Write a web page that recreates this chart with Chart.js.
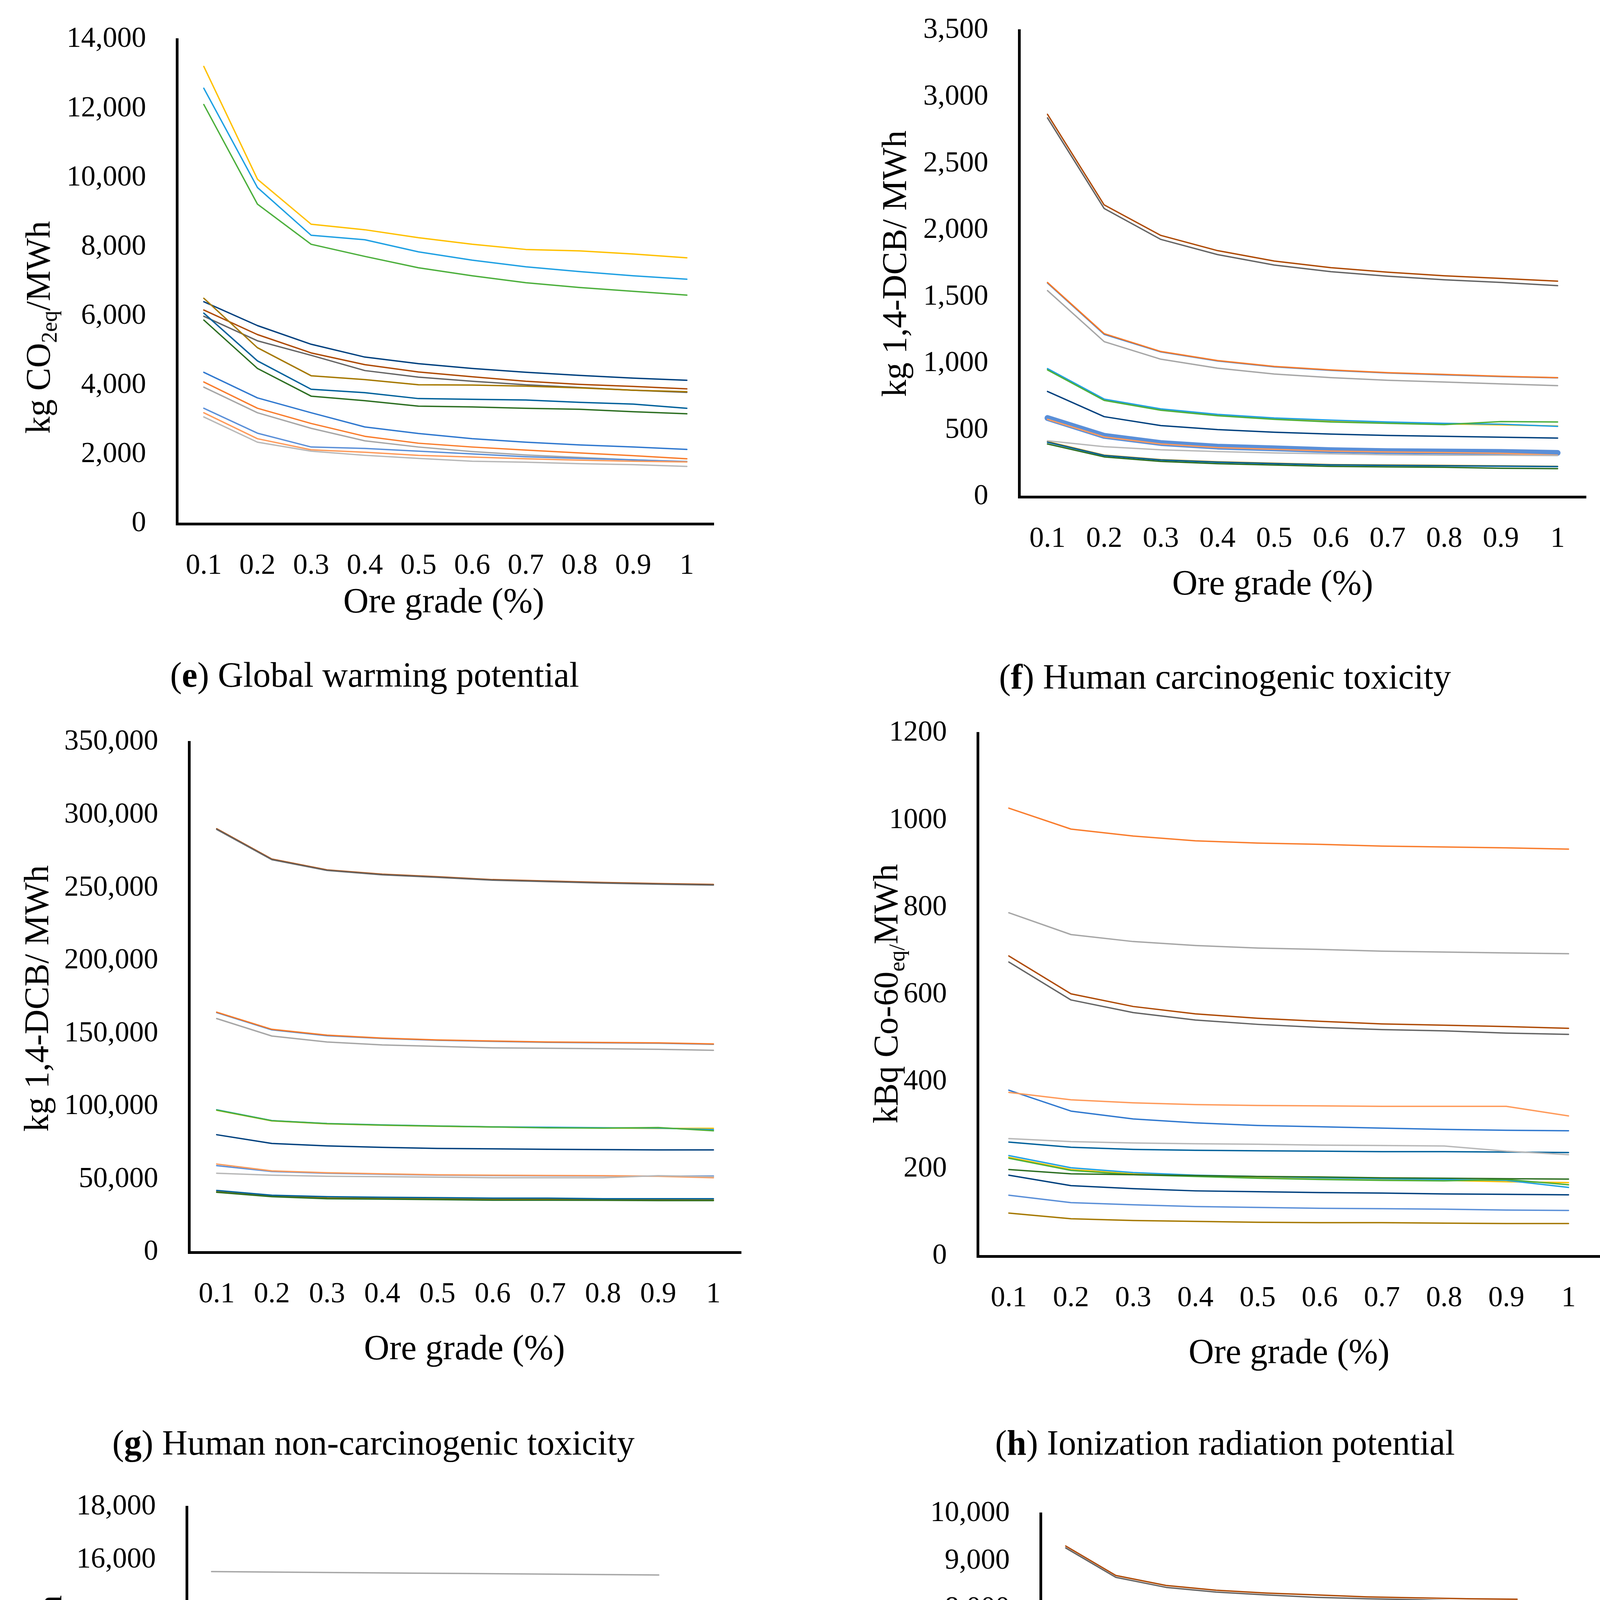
<!DOCTYPE html>
<html>
<head>
<meta charset="utf-8">
<script src="https://cdn.jsdelivr.net/npm/chart.js@4.4.1/dist/chart.umd.min.js"></script>
<style>
html,body{margin:0;padding:0;background:#fff;}
body{width:4135px;height:5726px;position:relative;overflow:hidden;font-family:'Liberation Serif','Times New Roman',serif;color:#000;}
canvas{position:absolute;}
.t{position:absolute;white-space:nowrap;line-height:1;transform:translate(-50%,-50%);}
.yt{position:absolute;white-space:nowrap;line-height:1;transform:translate(-50%,-50%) rotate(-90deg);font-size:88px;}
.xt{font-size:90px;}
.cap{font-size:90px;}
sub{font-size:65%;vertical-align:baseline;position:relative;top:0.32em;}
sup{font-size:65%;vertical-align:baseline;position:relative;top:-0.45em;}
</style>
</head>
<body>
<script>
// ---------------- DATA ----------------
const oreGrades = ['0.1','0.2','0.3','0.4','0.5','0.6','0.7','0.8','0.9','1'];

const seriesColors = ['#2F78CF','#F97C2C','#A6A6A6','#FFC000','#1FA0E3','#4CAF3C','#00407E','#AE4A06',
                      '#646464','#A57800','#00619B','#2C6E21','#5A8FD8','#FF9A5A','#B8B8B8'];

// (e) Global warming potential, kg CO2eq/MWh
const gwpValues = [
  [4380,3640,3210,2800,2610,2460,2360,2280,2220,2150],
  [4100,3340,2900,2530,2330,2220,2130,2050,1970,1880],
  [3950,3210,2760,2400,2220,2090,1990,1920,1850,1790],
  [13220,9960,8660,8500,8270,8080,7930,7890,7800,7690],
  [12590,9720,8340,8210,7860,7620,7430,7290,7170,7070],
  [12120,9240,8080,7730,7400,7170,6970,6830,6720,6610],
  [6420,5730,5190,4820,4630,4490,4380,4290,4210,4150],
  [6180,5470,4940,4600,4390,4250,4120,4030,3970,3900],
  [6000,5290,4870,4430,4240,4120,4020,3940,3860,3800],
  [6520,5090,4280,4170,4020,4010,3980,3930,3860,3820],
  [6090,4710,3890,3790,3620,3600,3580,3510,3460,3340],
  [5890,4490,3690,3560,3400,3380,3340,3310,3240,3180],
  [3340,2620,2220,2180,2100,2020,1940,1890,1850,1800],
  [3210,2460,2140,2070,1980,1930,1880,1840,1810,1790],
  [3090,2360,2100,1980,1890,1810,1780,1740,1710,1660]
];

// (f) Human carcinogenic toxicity, kg 1,4-DCB/MWh
const hctValues = [
  [1605,1220,1088,1020,976,950,930,916,903,893],
  [1609,1225,1091,1023,979,953,932,919,905,895],
  [1548,1165,1033,966,922,895,875,862,848,835],
  [960,730,656,615,590,570,557,548,540,532],
  [963,734,660,619,592,576,562,552,545,529],
  [953,724,650,609,582,562,552,542,565,562],
  [791,602,535,505,485,471,461,454,448,441],
  [2871,2191,1962,1848,1770,1720,1686,1659,1639,1619],
  [2844,2164,1932,1818,1740,1690,1656,1629,1609,1585],
  [414,313,279,263,252,242,239,236,232,229],
  [410,310,276,260,249,240,236,233,230,227],
  [397,300,266,249,239,229,225,222,215,212],
  [592,458,404,377,364,350,343,340,337,330],
  [582,450,397,370,357,344,337,333,327,313],
  [421,377,353,340,330,323,316,313,313,310]
];

// (g) Human non-carcinogenic toxicity, kg 1,4-DCB/MWh
const hnctValues = [
  [164500,152700,148700,146800,145500,144800,144100,143800,143500,142800],
  [164800,153000,149000,147000,145700,145000,144300,144000,143700,143000],
  [160400,148400,144300,142300,141300,140300,140000,139700,139300,138600],
  [97500,90200,88200,87200,86500,86000,85600,85300,85000,85100],
  [97800,90400,88400,87400,86700,86100,85800,85500,85200,84200],
  [97600,90300,88300,87300,86600,86000,85400,85200,85600,83400],
  [80700,74700,73000,72000,71300,71000,70700,70500,70300,70300],
  [290600,269800,262400,259400,257700,255700,254700,253700,253000,252400],
  [290200,269400,262000,259000,257300,255300,254300,253300,252600,252000],
  [41600,38600,37300,37000,36700,36400,36300,36100,36000,35900],
  [42500,39200,38200,37800,37500,37200,37200,36800,36800,36800],
  [41200,38200,36800,36500,36200,35800,35800,35700,35500,35500],
  [59500,55500,54300,53600,53000,52700,52500,52400,52300,52400],
  [60600,55900,54600,53900,53200,52900,52700,52600,52200,51200],
  [54300,52900,52200,51900,51600,51200,51200,51200,52600,51900]
];

// (h) Ionization radiation potential, kBq Co-60eq/MWh
const irpValues = [
  [381,333,315,306,300,297,294,291,289,288],
  [1028,980,964,953,948,945,941,939,937,934],
  [788,738,722,713,707,704,700,698,696,694],
  [227,199,189,185,180,177,175,174,171,169],
  [231,203,192,186,183,180,178,176,174,158],
  [225,197,187,183,179,176,174,173,176,164],
  [186,162,155,150,148,146,145,143,142,141],
  [689,602,573,556,546,539,533,530,527,523],
  [675,588,559,542,532,525,520,517,512,509],
  [99,86,82,80,78,77,77,76,75,75],
  [262,250,245,243,242,241,240,240,239,238],
  [199,189,187,185,183,182,180,179,178,177],
  [140,123,118,114,112,110,109,108,106,105],
  [376,359,352,348,346,345,344,344,344,322],
  [270,263,260,258,257,255,254,253,241,233]
];

// (i) Land use potential, m2a cropeq/MWh
const lupValues = [
  [690,675,650,630,615,600,585,570,560,555],
  [709,694,670,650,635,621,606,591,581,571],
  [15560,15545,15530,15515,15500,15490,15475,15460,15445,15430],
  [410,400,392,385,378,372,368,364,360,340],
  [438,430,422,414,402,390,380,368,350,300],
  [424,415,405,395,385,378,372,368,365,180],
  [345,330,311,305,298,291,289,287,286,276],
  [1275,1255,1226,1201,1162,1127,1108,1088,1059,1039],
  [1245,1225,1196,1171,1132,1097,1078,1058,1029,1000],
  [200,195,190,186,182,178,175,172,170,168],
  [182,176,167,163,160,157,153,150,147,143],
  [3980,3975,3970,3965,3960,3955,3950,3945,3940,3930],
  [237,234,230,226,222,218,214,210,206,202],
  [261,255,249,243,237,232,226,221,216,212],
  [5670,5665,5660,5655,5650,5645,5640,5637,5633,5630]
];

// (j) Marine ecotoxicity, kg 1,4-DCB/MWh
const metValues = [
  [4900,4790,4740,4700,4670,4650,4640,4630,4620,4620],
  [5280,4940,4810,4750,4710,4690,4670,4660,4650,4640],
  [4970,4610,4490,4430,4400,4380,4360,4350,4330,4320],
  [3100,2910,2845,2805,2785,2765,2755,2745,2745,2730],
  [3115,2925,2855,2815,2795,2775,2765,2755,2750,2710],
  [3100,2910,2845,2805,2780,2760,2745,2740,2750,2695],
  [2570,2400,2350,2320,2300,2290,2280,2270,2270,2260],
  [9320,8700,8490,8390,8330,8290,8250,8230,8210,8200],
  [9280,8660,8450,8350,8290,8240,8210,8190,8160,8140],
  [1280,1195,1150,1135,1125,1115,1112,1105,1100,1095],
  [1350,1260,1230,1220,1210,1210,1200,1200,1190,1180],
  [1270,1190,1140,1130,1120,1110,1110,1100,1100,1090],
  [1900,1790,1750,1730,1725,1715,1710,1705,1700,1700],
  [1930,1800,1760,1740,1730,1720,1710,1710,1700,1590],
  [1820,1700,1650,1620,1610,1600,1600,1590,1590,1580]
];

// y-axis tick ranges
const gwpTicks  = {min:0, max:14000,  step:2000};
const hctTicks  = {min:0, max:3500,   step:500};
const hnctTicks = {min:0, max:350000, step:50000};
const irpTicks  = {min:0, max:1200,   step:200};
const lupTicks  = {min:0, max:18000,  step:2000};
const metTicks  = {min:0, max:10000,  step:1000};

// ---------------- LAYOUT ----------------
Chart.defaults.font.family = "'Liberation Serif','Times New Roman',serif";
Chart.defaults.color = '#000';

const PADL = 420, PADT = 150, PADR = 60, PADB = 200;
const withComma = v => Number(v).toLocaleString('en-US');
const plain = v => String(v);

const panels = [
  {values:gwpValues, ticks:gwpTicks, fmt:withComma, L:453, T:101, R:1827, B:1341,
   yTitle:'kg CO<sub>2eq</sub>/MWh', yx:98, yy:838, xx:1136, xy:1538,
   cap:'(<b>e</b>) Global warming potential', cx:959, cy:1728},
  {values:hctValues, ticks:hctTicks, fmt:withComma, L:2609, T:78, R:4060, B:1272, thick:12,
   yTitle:'kg 1,4-DCB/ MWh', yx:2290, yy:675, xx:3258, xy:1492,
   cap:'(<b>f</b>) Human carcinogenic toxicity', cx:3136, cy:1733},
  {values:hnctValues, ticks:hnctTicks, fmt:withComma, L:484, T:1900, R:1897, B:3206,
   yTitle:'kg 1,4-DCB/ MWh', yx:94, yy:2556, xx:1189, xy:3450,
   cap:'(<b>g</b>) Human non-carcinogenic toxicity', cx:956, cy:3694},
  {values:irpValues, ticks:irpTicks, fmt:plain, L:2503, T:1877, R:4095, B:3216,
   yTitle:'kBq Co-60<sub>eq/</sub>MWh', yx:2268, yy:2544, xx:3300, xy:3460,
   cap:'(<b>h</b>) Ionization radiation potential', cx:3136, cy:3694},
  {values:lupValues, ticks:lupTicks, fmt:withComma, L:478, T:3858, R:1750, B:5077,
   yTitle:'m<sup>2</sup>a crop<sub>eq</sub>/MWh', yx:128, yy:4383, xx:1113, xy:5318,
   cap:'(<b>i</b>) Land use potential', cx:958, cy:5637},
  {values:metValues, ticks:metTicks, fmt:withComma, L:2664, T:3875, R:3948, B:5092,
   yTitle:'kg 1,4-DCB/MWh', yx:2354, yy:4431, xx:3304, xy:5334,
   cap:'(<b>j</b>) Marine ecotoxicity', cx:3136, cy:5637}
];

function addText(cls, html, x, y) {
  const d = document.createElement('div');
  d.className = cls;
  d.innerHTML = html;
  d.style.left = x + 'px';
  d.style.top = y + 'px';
  document.body.appendChild(d);
}

function makePanel(p) {
  const W = p.R - p.L + PADL + PADR;
  const H = p.B - p.T + PADT + PADB;
  const cv = document.createElement('canvas');
  cv.width = W; cv.height = H;
  cv.style.left = (p.L - PADL) + 'px';
  cv.style.top = (p.T - PADT) + 'px';
  cv.style.width = W + 'px';
  cv.style.height = H + 'px';
  document.body.appendChild(cv);

  const n = p.values.length;
  const datasets = p.values.map((v, i) => ({
    label: 'Series ' + (i + 1),
    data: v,
    borderColor: seriesColors[i],
    backgroundColor: seriesColors[i],
    borderWidth: p.thick === i ? 15 : 3.5,
    borderCapStyle: 'round',
    borderJoinStyle: 'round',
    pointRadius: 0,
    pointHoverRadius: 0,
    tension: 0,
    fill: false,
    order: n - i
  }));

  new Chart(cv, {
    type: 'line',
    data: {labels: oreGrades, datasets},
    options: {
      responsive: false,
      animation: false,
      devicePixelRatio: 1,
      layout: {padding: {left: 0, top: PADT, right: PADR, bottom: 0}},
      plugins: {legend: {display: false}, tooltip: {enabled: false}, title: {display: false}},
      scales: {
        x: {
          type: 'category',
          offset: true,
          grid: {display: false, drawTicks: false},
          border: {display: true, color: '#000', width: 7},
          ticks: {font: {size: 74}, color: '#000', padding: 64, maxRotation: 0, minRotation: 0, autoSkip: false},
          afterFit: s => { s.height = PADB; }
        },
        y: {
          type: 'linear',
          min: p.ticks.min, max: p.ticks.max,
          grid: {display: false, drawTicks: false},
          border: {display: true, color: '#000', width: 7},
          ticks: {stepSize: p.ticks.step, font: {size: 74}, color: '#000', padding: 79, callback: p.fmt},
          afterFit: s => { s.width = PADL; }
        }
      }
    }
  });

  addText('yt', p.yTitle, p.yx, p.yy);
  addText('t xt', 'Ore grade (%)', p.xx, p.xy);
  addText('t cap', p.cap, p.cx, p.cy);
}

panels.forEach(makePanel);
</script>
</body>
</html>
